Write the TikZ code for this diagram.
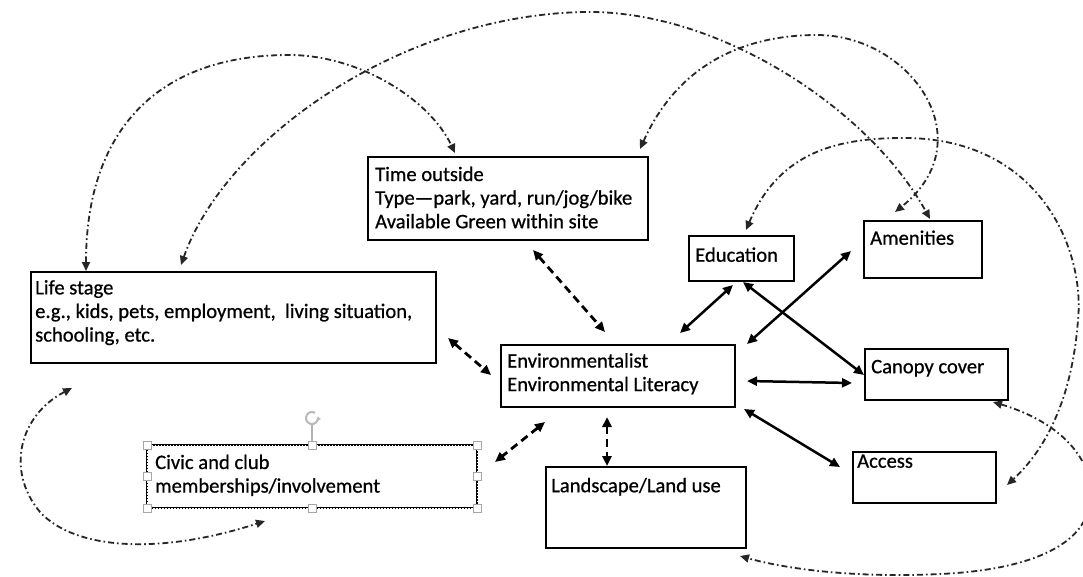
\documentclass[tikz,border=0pt]{standalone}
\usepackage{fontspec}
\setmainfont{Carlito}[FakeBold=0.7]
\usetikzlibrary{arrows.meta,calc}
\begin{document}
\begin{tikzpicture}[x=1pt,y=-1pt,
  box/.style={draw=black, line width=2.8pt, rectangle, inner sep=0pt, outer sep=0pt, anchor=north west},
  txt/.style={anchor=north west, inner sep=0pt, align=left, font=\fontsize{20.6}{23.6}\selectfont, execute at begin node=\strut},
  sol/.style={line width=2.5pt, {Triangle[length=10pt,width=9pt]}-{Triangle[length=10pt,width=9pt]}},
  dsh/.style={line width=2.8pt, dash pattern=on 8pt off 5pt, {Triangle[length=10pt,width=9pt]}-{Triangle[length=10pt,width=9pt]}},
  arcl/.style={line width=1.8pt, black!85, dash pattern=on 6pt off 3pt on 1.6pt off 3pt, {Triangle[length=9pt,width=8pt]}-{Triangle[length=9pt,width=8pt]}},
  handle/.style={draw=gray!70, fill=white, line width=1pt, minimum size=8pt, inner sep=0pt, rectangle},
]
\useasboundingbox[fill=white] (0,0) rectangle (1083,576);

% boxes
\node[box, minimum width=280pt, minimum height=83pt] (time) at (368,157) {};
\node[box, minimum width=405pt, minimum height=91pt] (life) at (31,272) {};
\node[box, minimum width=234pt, minimum height=62pt] (env) at (501,345) {};
\node[box, minimum width=105pt, minimum height=45pt] (edu) at (689,236) {};
\node[box, minimum width=118pt, minimum height=57pt] (amen) at (864,221) {};
\node[box, minimum width=143pt, minimum height=51pt] (canopy) at (865,349) {};
\node[box, minimum width=143pt, minimum height=51pt] (access) at (853,452) {};
\node[box, minimum width=200pt, minimum height=81pt] (land) at (546,467) {};
\node[box, line width=2.6pt, minimum width=330pt, minimum height=63pt] (civic) at (147,445) {};
\draw[white, line width=0.7pt, dash pattern=on 1.5pt off 1.5pt] (civic.north west) rectangle (civic.south east);

% texts
\node[txt] (timeT) at (375,166.5) {Time outside\\Type—park, yard, run/jog/bike\\Available Green within site};
\node[txt] (lifeT) at (35,280) {Life stage\\e.g., kids, pets, employment,\ \ living situation,\\schooling, etc.};
\node[txt] (envT) at (507,353) {Environmentalist\\Environmental Literacy};
\node[txt] (eduT) at (695,245) {Education};
\node[txt] (amenT) at (870,228) {Amenities};
\node[txt] (canopyT) at (871,356.5) {Canopy cover};
\node[txt] (accessT) at (857,451) {Access};
\node[txt] (landT) at (551,475.5) {Landscape/Land use};
\node[txt] (civicT) at (155,454.5) {Civic and club\\memberships/involvement};

% straight connectors
\draw[dsh] ($(time.south west)+(165,10)$) -- ($(env.north west)+(104,-13)$);
\draw[dsh] ($(life.north east)+(12,66)$) -- ($(env.north west)+(-10,30)$);
\draw[dsh] ($(env.south west)+(44,15)$) -- ($(civic.north east)+(18,17)$);
\draw[dsh] ($(env.south west)+(106,10)$) -- ($(land.north west)+(61,-1)$);
\draw[sol] ($(edu.south west)+(44,4)$) -- ($(env.north west)+(179,-12)$);
\draw[sol] ($(amen.north west)+(-13,30)$) -- ($(env.north east)+(12,-1)$);
\draw[sol] ($(edu.south west)+(54,1)$) -- ($(canopy.north west)+(-1,26)$);
\draw[sol] ($(env.north east)+(12,36)$) -- ($(canopy.north west)+(-13,34)$);
\draw[sol] ($(env.south east)+(9,2)$) -- ($(access.north west)+(-13,15)$);

% curved dash-dot connectors
\draw[arcl] ($(life.north west)+(55,-1)$) .. controls (86,131) and (157,55) .. (289,55)
  .. controls (360,55) and (430,100) .. ($(time.north west)+(87,-4)$);
\draw[arcl] ($(life.north west)+(150,-7)$) .. controls (225,140) and (400,15) .. (585,12)
  .. controls (720,10) and (870,110) .. ($(amen.north west)+(66,-2)$);
\draw[arcl] ($(time.north east)+(-8,-8)$) .. controls (680,60) and (750,35) .. (817,35)
  .. controls (910,35) and (985,140) .. ($(amen.north west)+(31,-9)$);
\draw[arcl] ($(edu.north west)+(57,-6)$) .. controls (780,150) and (840,138) .. (904,138)
  .. controls (1040,138) and (1085,250) .. (1078,320)
  .. controls (1072,400) and (1045,450) .. ($(access.north east)+(11,33)$);
\draw[arcl] ($(canopy.south east)+(-15,2)$) .. controls (1070,425) and (1100,470) .. (1088,510)
  .. controls (1080,545) and (1030,570) .. (940,574)
  .. controls (860,578) and (790,570) .. ($(land.south east)+(-6,8)$);
\draw[arcl] ($(life.south west)+(41,25)$) .. controls (20,415) and (5,470) .. (40,512)
  .. controls (75,550) and (160,555) .. ($(civic.south west)+(118,13)$);

% selection handles of the civic box
\coordinate (rotc) at ($(civic.north)+(0,-27)$);
\draw[gray!55, line width=2pt, -{Triangle[length=3.5pt,width=4.5pt]}] ($(rotc)+(3,-5.2)$) arc[start angle=60, end angle=375, radius=6pt];
\draw[gray!60, line width=1.2pt] ($(rotc)+(0,7)$) -- (civic.north);
\foreach \a/\n in {north west/1, north/2, north east/3, east/4, south east/5, south/6, south west/7, west/8}
  \node[handle] (h\n) at (civic.\a) {};
\end{tikzpicture}
\end{document}
